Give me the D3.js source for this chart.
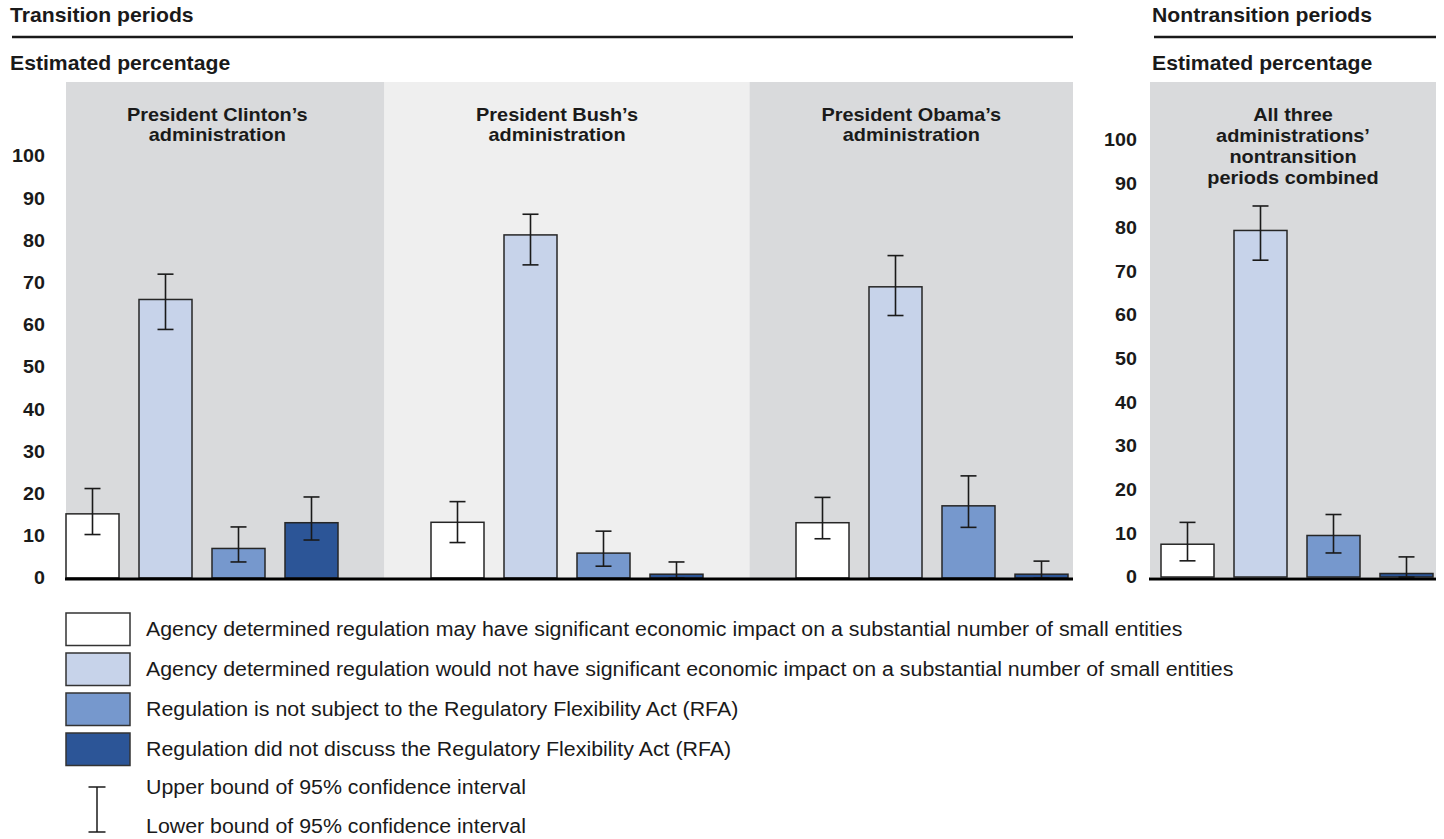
<!DOCTYPE html>
<html>
<head>
<meta charset="utf-8">
<script src="https://cdn.jsdelivr.net/npm/d3@7"></script>
<style>
  html, body { margin: 0; padding: 0; background: #ffffff; }
  svg { display: block; font-family: "Liberation Sans", Arial, Helvetica, sans-serif; }
</style>
</head>
<body>
<svg id="chart" width="1444" height="839"></svg>
<script>
// ---------------- DATA ----------------
const categories = [
  "Agency determined regulation may have significant economic impact on a substantial number of small entities",
  "Agency determined regulation would not have significant economic impact on a substantial number of small entities",
  "Regulation is not subject to the Regulatory Flexibility Act (RFA)",
  "Regulation did not discuss the Regulatory Flexibility Act (RFA)"
];
const administrations = ["President Clinton\u2019s administration", "President Bush\u2019s administration", "President Obama\u2019s administration"];
const administrationTitleLines = [["President Clinton\u2019s", "administration"], ["President Bush\u2019s", "administration"], ["President Obama\u2019s", "administration"]];
const nontransitionTitleLines = ["All three", "administrations\u2019", "nontransition", "periods combined"];

const clintonEstimate = [15.2, 66.0, 7.0, 13.1];
const clintonLower    = [10.3, 58.9, 3.8, 9.0];
const clintonUpper    = [21.2, 72.0, 12.1, 19.2];

const bushEstimate = [13.2, 81.3, 5.9, 0.9];
const bushLower    = [8.4, 74.2, 2.8, 0.0];
const bushUpper    = [18.1, 86.2, 11.1, 3.8];

const obamaEstimate = [13.1, 69.0, 17.1, 0.9];
const obamaLower    = [9.3, 62.2, 12.0, 0.0];
const obamaUpper    = [19.1, 76.4, 24.2, 4.0];

const nontransitionEstimate = [7.5, 79.3, 9.5, 0.8];
const nontransitionLower    = [3.7, 72.5, 5.5, 0.0];
const nontransitionUpper    = [12.5, 84.9, 14.3, 4.6];

const yTicks = [0, 10, 20, 30, 40, 50, 60, 70, 80, 90, 100];
const legendCI = ["Upper bound of 95% confidence interval", "Lower bound of 95% confidence interval"];
const headers = ["Transition periods", "Nontransition periods"];
const yAxisTitle = "Estimated percentage";

// ---------------- STYLE ----------------
const colors = ["#ffffff", "#c7d3ea", "#7698cd", "#2c5597"];
const bgDark = "#d9dadc", bgLight = "#efefef";
const ink = "#1a1a1a";
const SX = 1.06;        // horizontal text stretch
const SX_LEGEND = 1.068;

const svg = d3.select("#chart");

const transitionData = [
  {est: clintonEstimate, lo: clintonLower, hi: clintonUpper},
  {est: bushEstimate, lo: bushLower, hi: bushUpper},
  {est: obamaEstimate, lo: obamaLower, hi: obamaUpper}
];

// ---------------- SCALES ----------------
const yLeft = d3.scaleLinear().domain([0, 100]).range([578, 156]);
const yRight = d3.scaleLinear().domain([0, 100]).range([577, 140]);

const xGroup = d3.scaleBand().domain(administrations).range([66, 1068]).paddingInner(93 / 365).paddingOuter(0);
const xInner = d3.scaleBand().domain(categories).range([0, xGroup.bandwidth()]).paddingInner(20 / 73).paddingOuter(0);
const xRight = d3.scaleBand().domain(categories).range([1161, 1433]).paddingInner(20 / 73).paddingOuter(0);

const leftPlot = [66, 1073];
const rightPlot = [1150, 1436];
const bgTop = 82;

function stretchedText(x, y, text, size, weight, sx) {
  const g = svg.append("g").attr("transform", `translate(${x},${y}) scale(${sx || SX},1)`);
  return g.append("text").attr("x", 0).attr("y", 0).attr("dy", "0.35em")
    .attr("font-size", size).attr("font-weight", weight || "normal")
    .attr("fill", ink).text(text);
}

// ---------------- HEADERS ----------------
function header(x, x2, text) {
  stretchedText(x, 15, text, 20, "bold");
  svg.append("line").attr("x1", x + 2).attr("x2", x2).attr("y1", 37).attr("y2", 37)
    .attr("stroke", ink).attr("stroke-width", 2.5);
  stretchedText(x, 63, yAxisTitle, 20, "bold");
}
header(10, 1073, headers[0]);
header(1152, 1436, headers[1]);

// ---------------- BACKGROUNDS (left) ----------------
const bounds = [leftPlot[0]];
for (let i = 1; i < administrations.length; i++) {
  const prevEnd = xGroup(administrations[i - 1]) + xGroup.bandwidth();
  bounds.push((prevEnd + xGroup(administrations[i])) / 2);
}
bounds.push(leftPlot[1]);
const titleOffsets = [-8, -10, 0];

function titleBlock(cx, y0, step, lines) {
  const g = svg.append("g").attr("transform", `translate(${cx},0) scale(${SX},1)`);
  const t = g.append("text").attr("text-anchor", "middle").attr("font-size", 18.8)
    .attr("font-weight", "bold").attr("fill", ink);
  lines.forEach((line, j) => {
    t.append("tspan").attr("x", 0).attr("y", y0 + j * step).attr("dy", "0.35em").text(line);
  });
}

administrations.forEach((a, i) => {
  svg.append("rect").attr("x", bounds[i]).attr("y", bgTop)
    .attr("width", bounds[i + 1] - bounds[i]).attr("height", yLeft(0) - bgTop)
    .attr("fill", i % 2 === 0 ? bgDark : bgLight);
  titleBlock((bounds[i] + bounds[i + 1]) / 2 + titleOffsets[i], 114, 20.5, administrationTitleLines[i]);
});

// right background
svg.append("rect").attr("x", rightPlot[0]).attr("y", bgTop)
  .attr("width", rightPlot[1] - rightPlot[0]).attr("height", yRight(0) - bgTop)
  .attr("fill", bgDark);
titleBlock((rightPlot[0] + rightPlot[1]) / 2, 114, 21.3, nontransitionTitleLines);

// ---------------- Y AXES ----------------
function yAxis(scale, xRightEdge) {
  const g = svg.append("g").attr("transform", `translate(${xRightEdge},0)`)
    .call(d3.axisLeft(scale).tickValues(yTicks).tickSize(0).tickPadding(0).tickFormat(d3.format("d")));
  g.select(".domain").remove();
  g.selectAll("text").attr("font-size", 18.6).attr("font-weight", "bold").attr("fill", ink)
    .attr("font-family", "'Liberation Sans', Arial, sans-serif")
    .attr("transform", `scale(${SX},1)`);
}
yAxis(yLeft, 45);
yAxis(yRight, 1137);

// ---------------- BARS ----------------
function drawBars(xOf, y, d) {
  categories.forEach((c, k) => {
    const x0 = xOf(c);
    const w = xInner.bandwidth();
    svg.append("rect").attr("x", x0).attr("y", y(d.est[k]))
      .attr("width", w).attr("height", y(0) - y(d.est[k]))
      .attr("fill", colors[k]).attr("stroke", "#262626").attr("stroke-width", 1.5);
    const cx = x0 + w / 2;
    const cap = 8;
    const eg = svg.append("g").attr("stroke", ink).attr("stroke-width", 1.6);
    eg.append("line").attr("x1", cx).attr("x2", cx).attr("y1", y(d.hi[k])).attr("y2", y(d.lo[k]));
    eg.append("line").attr("x1", cx - cap).attr("x2", cx + cap).attr("y1", y(d.hi[k])).attr("y2", y(d.hi[k]));
    eg.append("line").attr("x1", cx - cap).attr("x2", cx + cap).attr("y1", y(d.lo[k])).attr("y2", y(d.lo[k]));
  });
}
administrations.forEach((a, i) => {
  drawBars(c => xGroup(a) + xInner(c), yLeft, transitionData[i]);
});
drawBars(c => xRight(c), yRight,
  {est: nontransitionEstimate, lo: nontransitionLower, hi: nontransitionUpper});

// baselines
svg.append("line").attr("x1", leftPlot[0] - 1).attr("x2", leftPlot[1]).attr("y1", yLeft(0) + 1).attr("y2", yLeft(0) + 1)
  .attr("stroke", "#000").attr("stroke-width", 3);
svg.append("line").attr("x1", rightPlot[0] - 1).attr("x2", rightPlot[1]).attr("y1", yRight(0) + 2).attr("y2", yRight(0) + 2)
  .attr("stroke", "#000").attr("stroke-width", 3);

// ---------------- LEGEND ----------------
const legendY = d3.scaleBand().domain(d3.range(categories.length)).range([613, 613 + 4 * 40 - 7.5])
  .paddingInner(7.5 / 40).paddingOuter(0);
categories.forEach((c, k) => {
  const yy = legendY(k);
  svg.append("rect").attr("x", 66).attr("y", yy).attr("width", 64).attr("height", legendY.bandwidth())
    .attr("fill", colors[k]).attr("stroke", "#333").attr("stroke-width", 1.5);
  stretchedText(146, yy + legendY.bandwidth() / 2, c, 20, "normal", SX_LEGEND);
});
// CI legend
{
  const cx = 97, top = 787, bot = 832, cap = 8.5;
  const g = svg.append("g").attr("stroke", ink).attr("stroke-width", 1.5);
  g.append("line").attr("x1", cx).attr("x2", cx).attr("y1", top).attr("y2", bot);
  g.append("line").attr("x1", cx - cap).attr("x2", cx + cap).attr("y1", top).attr("y2", top);
  g.append("line").attr("x1", cx - cap).attr("x2", cx + cap).attr("y1", bot).attr("y2", bot);
  stretchedText(146, 787, legendCI[0], 20, "normal", SX_LEGEND);
  stretchedText(146, 826, legendCI[1], 20, "normal", SX_LEGEND);
}
</script>
</body>
</html>
